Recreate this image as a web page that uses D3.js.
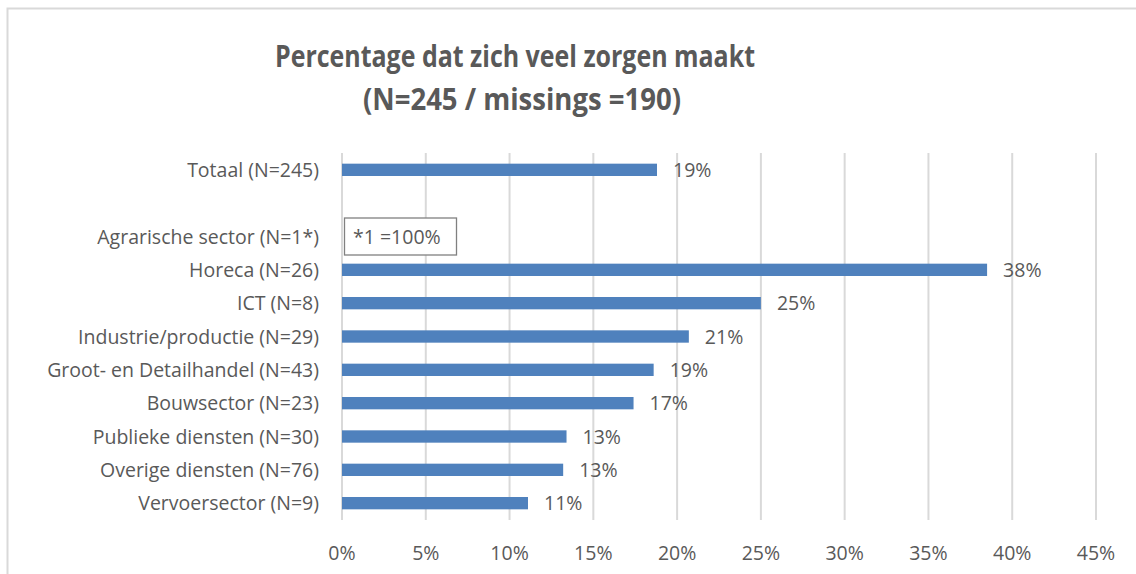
<!DOCTYPE html>
<html>
<head>
<meta charset="utf-8">
<script src="https://cdn.jsdelivr.net/npm/d3@7"></script>
<style>
  html, body { margin: 0; padding: 0; background: #fff; }
  text { font-family: "Open Sans", "Liberation Sans", sans-serif; fill: #595959; }
</style>
</head>
<body>
<div id="chart"></div>
<script>
// data
var categories = ["Totaal (N=245)", "", "Agrarische sector (N=1*)", "Horeca (N=26)", "ICT (N=8)",
    "Industrie/productie (N=29)", "Groot- en Detailhandel (N=43)", "Bouwsector (N=23)",
    "Publieke diensten (N=30)", "Overige diensten (N=76)", "Vervoersector (N=9)"];
var values = [0.188, null, null, 0.385, 0.25, 0.207, 0.186, 0.174, 0.134, 0.132, 0.111];
var valueLabels = ["19%", "", "", "38%", "25%", "21%", "19%", "17%", "13%", "13%", "11%"];
var ticks = [0, 0.05, 0.10, 0.15, 0.20, 0.25, 0.30, 0.35, 0.40, 0.45];
var titleLines = ["Percentage dat zich veel zorgen maakt", "(N=245 / missings =190)"];
var noteText = "*1 =100%";

var W = 1136, H = 574;
var fs = 19.5;
var svg = d3.select("#chart").append("svg").attr("width", W).attr("height", H);

// chart frame
svg.append("rect")
    .attr("x", 7.5).attr("y", 8.5)
    .attr("width", 1140).attr("height", 620)
    .attr("fill", "#fff")
    .attr("stroke", "#d9d9d9").attr("stroke-width", 2);

// title
svg.selectAll(".title")
    .data(titleLines)
    .enter().append("text")
    .attr("class", "title")
    .attr("x", function (d, i) { return i === 0 ? 515 : 522; })
    .attr("y", function (d, i) { return 67 + i * 43; })
    .attr("text-anchor", "middle")
    .attr("font-size", 30)
    .attr("font-weight", "bold")
    .attr("textLength", function (d, i) { return i === 0 ? 480 : 318; })
    .attr("lengthAdjust", "spacingAndGlyphs")
    .text(function (d) { return d; });

var x = d3.scaleLinear().domain([0, 0.45]).range([342, 1096]);
var y = d3.scaleBand().domain(d3.range(categories.length)).range([153, 520]).paddingInner(0.63).paddingOuter(0.32);

// gridlines
svg.append("g")
    .selectAll("line")
    .data(ticks)
    .enter().append("line")
    .attr("x1", function (d) { return x(d); })
    .attr("x2", function (d) { return x(d); })
    .attr("y1", 153).attr("y2", 520)
    .attr("stroke", "#d9d9d9").attr("stroke-width", 2);

// x tick labels
svg.append("g")
    .selectAll("text")
    .data(ticks)
    .enter().append("text")
    .attr("x", function (d) { return x(d); })
    .attr("y", 560)
    .attr("text-anchor", "middle")
    .attr("font-size", fs)
    .text(function (d) { return d3.format(".0%")(d); });

// category labels
svg.append("g")
    .selectAll("text")
    .data(categories)
    .enter().append("text")
    .attr("x", 319)
    .attr("y", function (d, i) { return y(i) + y.bandwidth() / 2; })
    .attr("dy", "0.36em")
    .attr("text-anchor", "end")
    .attr("font-size", fs)
    .text(function (d) { return d; });

var rows = values.map(function (v, i) { return { i: i, v: v, label: valueLabels[i] }; })
    .filter(function (d) { return d.v !== null; });

// bars
svg.append("g")
    .selectAll("rect")
    .data(rows)
    .enter().append("rect")
    .attr("x", x(0))
    .attr("y", function (d) { return y(d.i); })
    .attr("width", function (d) { return x(d.v) - x(0); })
    .attr("height", y.bandwidth())
    .attr("fill", "#4f81bd");

// value labels
svg.append("g")
    .selectAll("text")
    .data(rows)
    .enter().append("text")
    .attr("x", function (d) { return x(d.v) + 16; })
    .attr("y", function (d) { return y(d.i) + y.bandwidth() / 2; })
    .attr("dy", "0.36em")
    .attr("font-size", fs)
    .text(function (d) { return d.label; });

// note box for Agrarische sector
var noteY = y(2) + y.bandwidth() / 2;
svg.append("rect")
    .attr("x", 344.5).attr("y", noteY - 18.5)
    .attr("width", 112).attr("height", 37)
    .attr("fill", "#fff")
    .attr("stroke", "#808080").attr("stroke-width", 1.3);
svg.append("text")
    .attr("x", 353).attr("y", noteY)
    .attr("dy", "0.36em")
    .attr("font-size", fs)
    .text(noteText);
</script>
</body>
</html>
